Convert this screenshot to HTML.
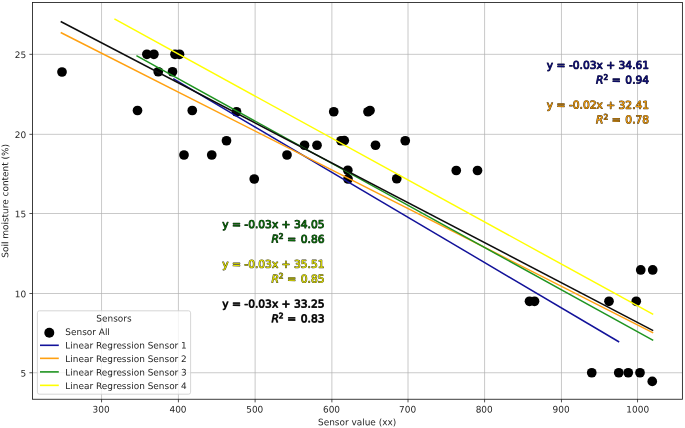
<!DOCTYPE html>
<html><head><meta charset="utf-8"><title>Sensors</title>
<style>
html,body{margin:0;padding:0;background:#fff;}
svg{display:block;}
text{font-family:"DejaVu Sans","Liberation Sans",sans-serif;fill:#262626;}
.t{font-size:8.95px;}
.a{font-size:10.68px;font-weight:normal;paint-order:stroke fill;stroke-linejoin:round;}
</style></head><body>
<svg width="685" height="428" viewBox="0 0 685 428">
<rect width="685" height="428" fill="#fff"/>
<g stroke="#b0b0b0" stroke-width="0.68" fill="none">
<line x1="101.55" y1="2.5" x2="101.55" y2="399.25"/>
<line x1="178.42" y1="2.5" x2="178.42" y2="399.25"/>
<line x1="255.12" y1="2.5" x2="255.12" y2="399.25"/>
<line x1="331.88" y1="2.5" x2="331.88" y2="399.25"/>
<line x1="408.00" y1="2.5" x2="408.00" y2="399.25"/>
<line x1="484.58" y1="2.5" x2="484.58" y2="399.25"/>
<line x1="561.46" y1="2.5" x2="561.46" y2="399.25"/>
<line x1="637.54" y1="2.5" x2="637.54" y2="399.25"/>
<line x1="32.5" y1="372.75" x2="682.4" y2="372.75"/>
<line x1="32.5" y1="293.50" x2="682.4" y2="293.50"/>
<line x1="32.5" y1="213.50" x2="682.4" y2="213.50"/>
<line x1="32.5" y1="134.33" x2="682.4" y2="134.33"/>
<line x1="32.5" y1="54.33" x2="682.4" y2="54.33"/>
</g>
<g stroke="#1a1a1a" stroke-width="0.75">
<line x1="101.55" y1="399.25" x2="101.55" y2="402.35"/>
<line x1="178.42" y1="399.25" x2="178.42" y2="402.35"/>
<line x1="255.12" y1="399.25" x2="255.12" y2="402.35"/>
<line x1="331.88" y1="399.25" x2="331.88" y2="402.35"/>
<line x1="408.00" y1="399.25" x2="408.00" y2="402.35"/>
<line x1="484.58" y1="399.25" x2="484.58" y2="402.35"/>
<line x1="561.46" y1="399.25" x2="561.46" y2="402.35"/>
<line x1="637.54" y1="399.25" x2="637.54" y2="402.35"/>
<line x1="29.4" y1="372.75" x2="32.5" y2="372.75"/>
<line x1="29.4" y1="293.50" x2="32.5" y2="293.50"/>
<line x1="29.4" y1="213.50" x2="32.5" y2="213.50"/>
<line x1="29.4" y1="134.33" x2="32.5" y2="134.33"/>
<line x1="29.4" y1="54.33" x2="32.5" y2="54.33"/>
</g>
<g fill="#000">
<circle cx="62" cy="72" r="4.85"/>
<circle cx="146.9" cy="54.3" r="4.85"/>
<circle cx="153.9" cy="54.3" r="4.85"/>
<circle cx="175" cy="54.3" r="4.85"/>
<circle cx="179.5" cy="54.3" r="4.85"/>
<circle cx="158.25" cy="71.75" r="4.85"/>
<circle cx="172.5" cy="71.75" r="4.85"/>
<circle cx="137.5" cy="110.5" r="4.85"/>
<circle cx="192.25" cy="110.5" r="4.85"/>
<circle cx="236.5" cy="111.75" r="4.85"/>
<circle cx="226.5" cy="140.75" r="4.85"/>
<circle cx="184" cy="155.0" r="4.85"/>
<circle cx="211.75" cy="155.0" r="4.85"/>
<circle cx="287" cy="155.0" r="4.85"/>
<circle cx="254.25" cy="179.0" r="4.85"/>
<circle cx="304.5" cy="145.25" r="4.85"/>
<circle cx="317" cy="145.25" r="4.85"/>
<circle cx="333.75" cy="111.75" r="4.85"/>
<circle cx="368" cy="111.75" r="4.85"/>
<circle cx="370" cy="110.5" r="4.85"/>
<circle cx="341" cy="140.75" r="4.85"/>
<circle cx="344.3" cy="140.6" r="4.85"/>
<circle cx="375.5" cy="145.25" r="4.85"/>
<circle cx="405.25" cy="140.75" r="4.85"/>
<circle cx="347.8" cy="170.3" r="4.85"/>
<circle cx="348" cy="179" r="4.85"/>
<circle cx="396.75" cy="178.75" r="4.85"/>
<circle cx="456.25" cy="170.5" r="4.85"/>
<circle cx="477.5" cy="170.5" r="4.85"/>
<circle cx="529.5" cy="301.3" r="4.85"/>
<circle cx="534.5" cy="301.3" r="4.85"/>
<circle cx="609" cy="301.3" r="4.85"/>
<circle cx="636.25" cy="301.3" r="4.85"/>
<circle cx="640.75" cy="269.95" r="4.85"/>
<circle cx="652.7" cy="269.95" r="4.85"/>
<circle cx="591.75" cy="372.75" r="4.85"/>
<circle cx="618.75" cy="372.75" r="4.85"/>
<circle cx="628.25" cy="372.75" r="4.85"/>
<circle cx="640" cy="372.75" r="4.85"/>
<circle cx="652.25" cy="381.4" r="4.85"/>
</g>
<g stroke-width="1.48" fill="none" stroke-linecap="butt">
<line x1="173.2" y1="78.7" x2="619.2" y2="342.0" stroke="#12129a"/>
<line x1="60.7" y1="32.5" x2="653.2" y2="332.8" stroke="#ffa010"/>
<line x1="136.4" y1="55.7" x2="653.2" y2="340.4" stroke="#1f9420"/>
<line x1="114.4" y1="18.95" x2="653.2" y2="314.4" stroke="#ffff00"/>
<line x1="60.7" y1="21.5" x2="653.2" y2="330.6" stroke="#0d0d0d"/>
</g>
<rect x="32.5" y="2.5" width="649.9" height="396.75" fill="none" stroke="#1a1a1a" stroke-width="0.85"/>
<text class="t" transform="translate(101.15,412.60) rotate(0.03)" text-anchor="middle" >300</text>
<text class="t" transform="translate(178.02,412.60) rotate(0.03)" text-anchor="middle" >400</text>
<text class="t" transform="translate(254.72,412.60) rotate(0.03)" text-anchor="middle" >500</text>
<text class="t" transform="translate(331.48,412.60) rotate(0.03)" text-anchor="middle" >600</text>
<text class="t" transform="translate(407.60,412.60) rotate(0.03)" text-anchor="middle" >700</text>
<text class="t" transform="translate(484.18,412.60) rotate(0.03)" text-anchor="middle" >800</text>
<text class="t" transform="translate(561.06,412.60) rotate(0.03)" text-anchor="middle" >900</text>
<text class="t" transform="translate(637.74,412.60) rotate(0.03)" text-anchor="middle" >1000</text>
<text class="t" transform="translate(26.10,376.45) rotate(0.03)" text-anchor="end" >5</text>
<text class="t" transform="translate(26.10,297.20) rotate(0.03)" text-anchor="end" >10</text>
<text class="t" transform="translate(26.10,217.20) rotate(0.03)" text-anchor="end" >15</text>
<text class="t" transform="translate(26.10,138.03) rotate(0.03)" text-anchor="end" >20</text>
<text class="t" transform="translate(26.10,58.03) rotate(0.03)" text-anchor="end" >25</text>
<text class="t" transform="translate(357.10,425.25) rotate(0.03)" text-anchor="middle" >Sensor value (xx)</text>
<text class="t" transform="translate(8.3,200.8) rotate(-89.97)" text-anchor="middle">Soil moisture content (%)</text>
<g class="a" stroke="#15153a" stroke-width="0.9">
<text transform="translate(649.1,68.85) rotate(0.03)" text-anchor="end" style="fill:#0a0a76">y = -0.03x + 34.61</text>
<text transform="translate(649.1,83.55) rotate(0.03)" text-anchor="end" style="fill:#0a0a76"><tspan font-style="italic">R</tspan><tspan dy="-3.9" font-size="7.48px">2</tspan><tspan dy="3.9" dx="0.2"> =</tspan><tspan dx="1.2"> 0.94</tspan></text>
</g>
<g class="a" stroke="#4a3510" stroke-width="0.9">
<text transform="translate(649.1,108.65) rotate(0.03)" text-anchor="end" style="fill:#f29a08">y = -0.02x + 32.41</text>
<text transform="translate(649.1,123.35) rotate(0.03)" text-anchor="end" style="fill:#f29a08"><tspan font-style="italic">R</tspan><tspan dy="-3.9" font-size="7.48px">2</tspan><tspan dy="3.9" dx="0.2"> =</tspan><tspan dx="1.2"> 0.78</tspan></text>
</g>
<g class="a" stroke="#102a10" stroke-width="0.9">
<text transform="translate(324.5,227.95) rotate(0.03)" text-anchor="end" style="fill:#086808">y = -0.03x + 34.05</text>
<text transform="translate(324.5,242.65) rotate(0.03)" text-anchor="end" style="fill:#086808"><tspan font-style="italic">R</tspan><tspan dy="-3.9" font-size="7.48px">2</tspan><tspan dy="3.9" dx="0.2"> =</tspan><tspan dx="1.2"> 0.86</tspan></text>
</g>
<g class="a" stroke="#3a3a1a" stroke-width="0.9">
<text transform="translate(324.5,267.75) rotate(0.03)" text-anchor="end" style="fill:#e2e200">y = -0.03x + 35.51</text>
<text transform="translate(324.5,282.45) rotate(0.03)" text-anchor="end" style="fill:#e2e200"><tspan font-style="italic">R</tspan><tspan dy="-3.9" font-size="7.48px">2</tspan><tspan dy="3.9" dx="0.2"> =</tspan><tspan dx="1.2"> 0.85</tspan></text>
</g>
<g class="a" stroke="#333333" stroke-width="0.9">
<text transform="translate(324.5,307.55) rotate(0.03)" text-anchor="end" style="fill:#000000">y = -0.03x + 33.25</text>
<text transform="translate(324.5,322.25) rotate(0.03)" text-anchor="end" style="fill:#000000"><tspan font-style="italic">R</tspan><tspan dy="-3.9" font-size="7.48px">2</tspan><tspan dy="3.9" dx="0.2"> =</tspan><tspan dx="1.2"> 0.83</tspan></text>
</g>
<rect x="37.4" y="310.8" width="153.2" height="83.4" rx="2" ry="2" fill="#fff" fill-opacity="0.8" stroke="#cccccc" stroke-width="0.8"/>
<text class="t" transform="translate(114.00,321.50) rotate(0.03)" text-anchor="middle" >Sensors</text>
<circle cx="49.3" cy="332.8" r="5" fill="#000"/>
<text class="t" transform="translate(65.30,334.90) rotate(0.03)" text-anchor="start" >Sensor All</text>
<line x1="40" y1="345.30" x2="58.8" y2="345.30" stroke="#12129a" stroke-width="1.6"/>
<text class="t" transform="translate(65.30,348.40) rotate(0.03)" text-anchor="start" >Linear Regression Sensor 1</text>
<line x1="40" y1="358.35" x2="58.8" y2="358.35" stroke="#ffa010" stroke-width="1.6"/>
<text class="t" transform="translate(65.30,361.90) rotate(0.03)" text-anchor="start" >Linear Regression Sensor 2</text>
<line x1="40" y1="371.90" x2="58.8" y2="371.90" stroke="#1f9420" stroke-width="1.6"/>
<text class="t" transform="translate(65.30,375.40) rotate(0.03)" text-anchor="start" >Linear Regression Sensor 3</text>
<line x1="40" y1="385.35" x2="58.8" y2="385.35" stroke="#ffff00" stroke-width="1.6"/>
<text class="t" transform="translate(65.30,388.90) rotate(0.03)" text-anchor="start" >Linear Regression Sensor 4</text>
</svg></body></html>
